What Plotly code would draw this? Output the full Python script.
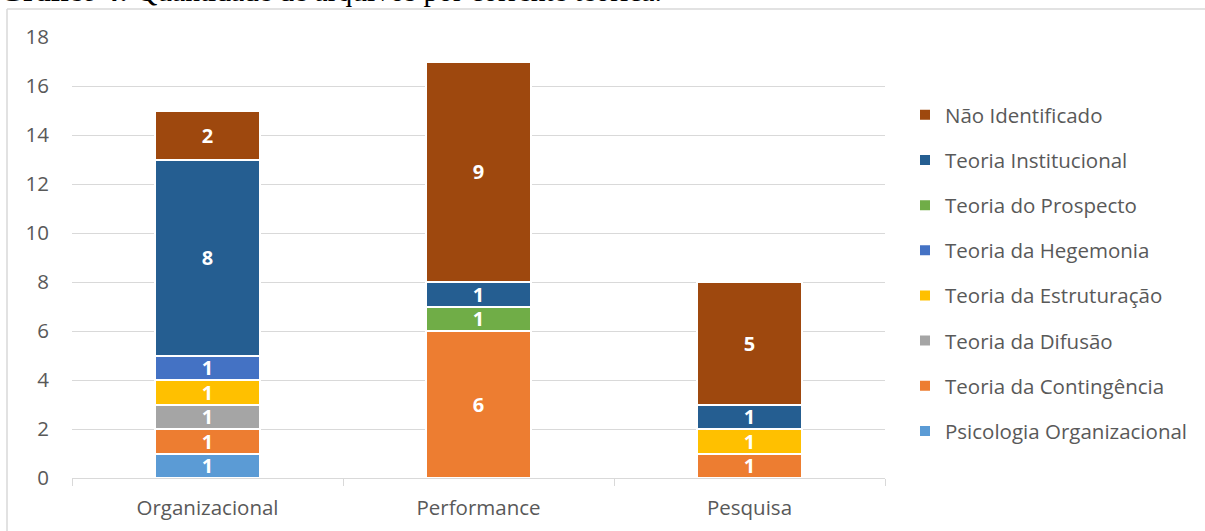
import plotly.graph_objects as go

categories = ["Organizacional", "Performance", "Pesquisa"]

series_names = [
    "Psicologia Organizacional",
    "Teoria da Contingência",
    "Teoria da Difusão",
    "Teoria da Estruturação",
    "Teoria da Hegemonia",
    "Teoria do Prospecto",
    "Teoria Institucional",
    "Não Identificado",
]

psicologia_organizacional = [1, 0, 0]
teoria_contingencia = [1, 6, 1]
teoria_difusao = [1, 0, 0]
teoria_estruturacao = [1, 0, 1]
teoria_hegemonia = [1, 0, 0]
teoria_prospecto = [0, 1, 0]
teoria_institucional = [8, 1, 1]
nao_identificado = [2, 9, 5]

y_ticks = [0, 2, 4, 6, 8, 10, 12, 14, 16, 18]

series_values = [
    psicologia_organizacional,
    teoria_contingencia,
    teoria_difusao,
    teoria_estruturacao,
    teoria_hegemonia,
    teoria_prospecto,
    teoria_institucional,
    nao_identificado,
]

colors = ["#5B9BD5", "#ED7D31", "#A5A5A5", "#FFC000",
          "#4472C4", "#70AD47", "#255E91", "#9E480E"]

FONT = "Open Sans"
FS = 20.5
GREY_TEXT = "#595959"

fig = go.Figure()
n = len(series_names)
for i, (name, vals, col) in enumerate(zip(series_names, series_values, colors)):
    labels = [str(v) if v else "" for v in vals]
    fig.add_trace(go.Bar(
        x=categories,
        y=[v if v else None for v in vals],
        name=name,
        legendgroup=name,
        legendrank=n - i,  # top of the stack listed first
        marker=dict(color=col, line=dict(color="white", width=2)),
        text=labels,
        textposition="inside",
        insidetextanchor="middle",
        textangle=0,
        textfont=dict(family=FONT, size=20, color="white", weight="bold"),
        hoverinfo="x+y+name",
    ))

# plot-area geometry in pixels
L, R, T, B = 72, 885, 37, 478
PW, PH = R - L, B - T

def px_x(p):
    return (p - L) / PW

def px_y(p):
    return (B - p) / PH

shapes = [
    # outer chart frame (top and left edges)
    dict(type="line", xref="paper", yref="paper",
         x0=px_x(7), x1=px_x(1300), y0=px_y(9), y1=px_y(9),
         line=dict(color="#D9D9D9", width=1.5)),
    dict(type="line", xref="paper", yref="paper",
         x0=px_x(7), x1=px_x(7), y0=px_y(9), y1=px_y(560),
         line=dict(color="#D9D9D9", width=1.5)),
]

fig.update_layout(
    width=1205, height=531,
    margin=dict(l=L, r=1205 - R, t=T, b=531 - B, pad=0, autoexpand=False),
    paper_bgcolor="white", plot_bgcolor="white",
    barmode="stack",
    bargap=0.616,
    uniformtext=dict(minsize=20, mode="show"),
    font=dict(family=FONT, size=FS, color=GREY_TEXT),
    showlegend=True,
    legend=dict(
        traceorder="grouped",
        x=px_x(905), xanchor="left",
        y=px_y(95), yanchor="top",
        font=dict(family=FONT, size=FS, color=GREY_TEXT),
        tracegroupgap=15.5,
        itemwidth=30,
        bgcolor="rgba(0,0,0,0)",
    ),
    xaxis=dict(
        automargin=False,
        showgrid=False,
        showline=True, linecolor="#D9D9D9", linewidth=1,
        ticks="outside", tickson="boundaries", ticklen=7,
        tickcolor="#D9D9D9",
        ticklabelstandoff=11,
        tickfont=dict(family=FONT, size=FS, color=GREY_TEXT),
    ),
    yaxis=dict(
        automargin=False,
        range=[0, 18],
        tickvals=y_ticks,
        showgrid=True, gridcolor="#D9D9D9", gridwidth=1,
        zeroline=False, showline=False,
        ticks="", ticklabelstandoff=22,
        tickfont=dict(family=FONT, size=FS, color=GREY_TEXT),
    ),
    shapes=shapes,
    annotations=[
        dict(
            xref="paper", yref="paper",
            x=px_x(-2), xanchor="left",
            y=1, yanchor="bottom", yshift=T - 9,
            text="<b>Gráfico 4:</b> Quantidade de arquivos por corrente teórica.",
            showarrow=False,
            font=dict(family="Liberation Serif", size=29.5, color="black"),
        )
    ],
)

fig.write_html("out.html")
